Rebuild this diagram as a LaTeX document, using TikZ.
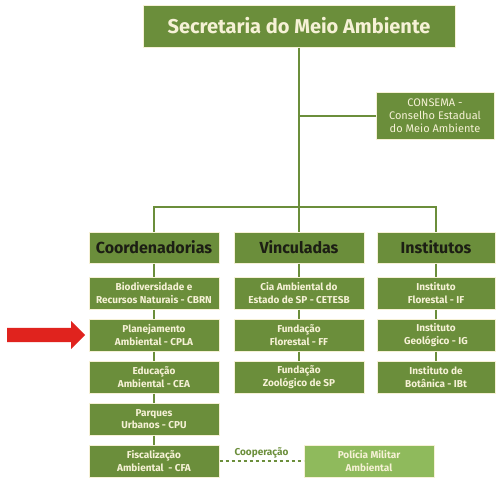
\documentclass[tikz,border=0pt]{standalone}
\usepackage{fontspec}
\setmainfont{Fira Sans}
\usetikzlibrary{positioning, shapes.arrows}
\definecolor{smagreen}{RGB}{107,142,59}
\definecolor{smalight}{RGB}{143,186,92}
\definecolor{smacream}{RGB}{246,241,214}
\definecolor{smadark}{RGB}{28,30,20}
\definecolor{smared}{RGB}{224,35,30}
\tikzstyle{topblock} = [rectangle, minimum width=312pt, minimum height=42pt, text centered, draw=smacream, line width=1pt, fill=smagreen, text=smacream, font=\fontsize{20}{23}\selectfont\bfseries]
\tikzstyle{catblock} = [rectangle, minimum width=130pt, minimum height=31pt, text centered, draw=smacream, line width=1pt, fill=smagreen, text=smadark, font=\fontsize{16}{19}\selectfont\bfseries]
\tikzstyle{subblock} = [rectangle, minimum width=130pt, minimum height=32pt, inner sep=1pt, align=center, draw=smacream, line width=1pt, fill=smagreen, text=smacream, font=\fontsize{10}{12.5}\selectfont\bfseries]
\tikzstyle{link} = [smagreen, line width=2pt]

\begin{document}
\begin{tikzpicture}[x=1pt, y=1pt, node distance=9pt]
\useasboundingbox (0,0) rectangle (500,-477);

% Top-level Secretaria
\node (sec) [topblock] at (299,-26) {Secretaria do Meio Ambiente};
\node (consema) [subblock, minimum width=118pt, minimum height=47pt, font=\fontsize{11}{13}\selectfont] at (435,-115.5) {CONSEMA -\\Conselho Estadual\\do Meio Ambiente};

% Categories
\node (vinc) [catblock, below=184pt of sec] {Vinculadas};
\node (coord) [catblock, left=14pt of vinc] {Coordenadorias};
\node (inst) [catblock, minimum width=118pt, right=12pt of vinc] {Institutos};

% Coordenadorias
\node (cbrn) [subblock, below=13pt of coord] {Biodiversidade e\\Recursos Naturais - CBRN};
\node (cpla) [subblock, below=of cbrn] {Planejamento\\Ambiental - CPLA};
\node (cea) [subblock, below=of cpla] {Educação\\Ambiental - CEA};
\node (cpu) [subblock, below=of cea] {Parques\\Urbanos - CPU};
\node (cfa) [subblock, below=of cpu] {Fiscalização\\Ambiental\ \ - CFA};

% Vinculadas
\node (cetesb) [subblock, below=13pt of vinc] {Cia Ambiental do\\Estado de SP - CETESB};
\node (ff) [subblock, below=of cetesb] {Fundação\\Florestal - FF};
\node (fzsp) [subblock, below=of ff] {Fundação\\Zoológico de SP};

% Institutos
\node (iflo) [subblock, minimum width=118pt, below=13pt of inst] {Instituto\\Florestal - IF};
\node (igeo) [subblock, minimum width=118pt, below=of iflo] {Instituto\\Geológico - IG};
\node (ibot) [subblock, minimum width=118pt, below=of igeo] {Instituto de\\Botânica - IBt};

% Policia Militar and marker
\node (pm) [subblock, fill=smalight, right=84pt of cfa] {Polícia Militar\\Ambiental};
\node (mark) [single arrow, fill=smared, inner sep=7pt, minimum height=78pt, single arrow head extend=7pt, left=3pt of cpla] {};

% Lines from Secretaria
\draw [link] (sec.south) -- (vinc.north);
\draw [link] (consema.west) -- (consema.west -| sec.south);
\draw [link] (coord.north) -- ++(0,25pt) -| (inst.north);

% Lines within Coordenadorias
\draw [link] (coord.south) -- (cbrn.north);
\draw [link] (cbrn.south) -- (cpla.north);
\draw [link] (cpla.south) -- (cea.north);
\draw [link] (cea.south) -- (cpu.north);
\draw [link] (cpu.south) -- (cfa.north);

% Lines within Vinculadas
\draw [link] (vinc.south) -- (cetesb.north);
\draw [link] (cetesb.south) -- (ff.north);
\draw [link] (ff.south) -- (fzsp.north);

% Lines within Institutos
\draw [link] (inst.south) -- (iflo.north);
\draw [link] (iflo.south) -- (igeo.north);
\draw [link] (igeo.south) -- (ibot.north);

% Cooperation
\draw [link, line width=1.5pt, dashed] (cfa.east) -- (pm.west) node [midway, above, inner sep=2pt, text=smagreen, font=\fontsize{10}{12}\selectfont\bfseries] {Cooperação};

\end{tikzpicture}
\end{document}
